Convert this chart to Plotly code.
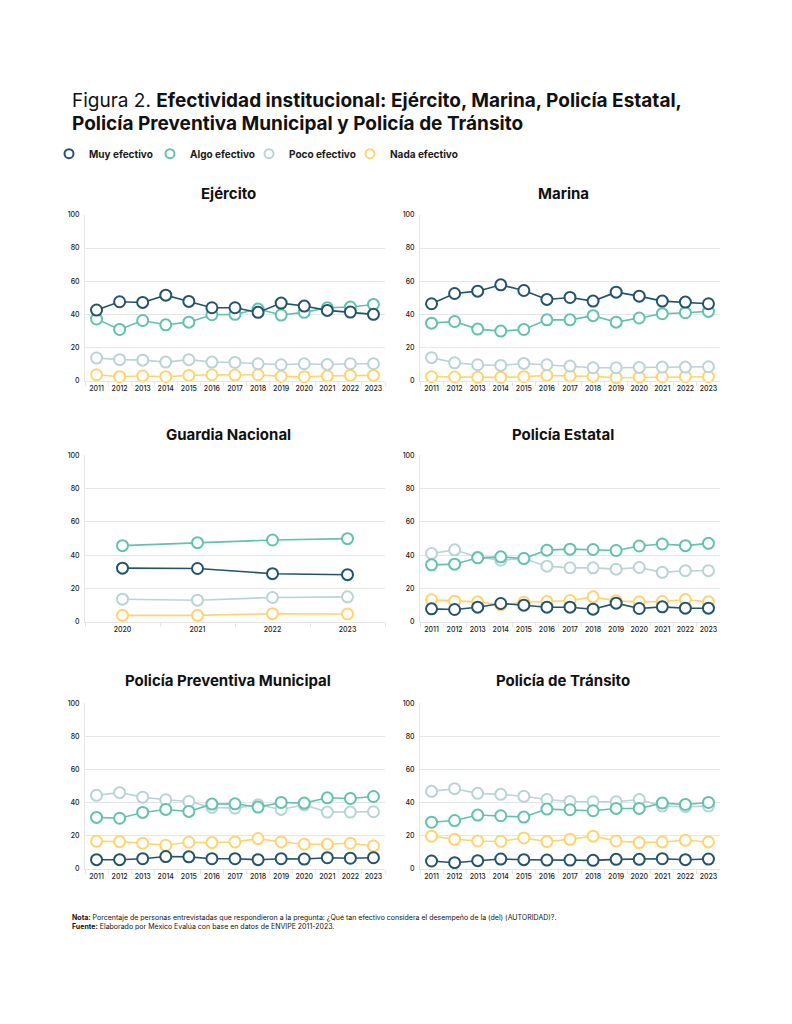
import plotly.graph_objects as go

# ---------------- data ----------------
years = ["2011", "2012", "2013", "2014", "2015", "2016", "2017", "2018", "2019", "2020", "2021", "2022", "2023"]
years_gn = ["2020", "2021", "2022", "2023"]

series_names = ["Muy efectivo", "Algo efectivo", "Poco efectivo", "Nada efectivo"]
series_colors = ["#24536a", "#62c2ad", "#b9d3d6", "#ffd46e"]

panel_titles = ["Ejército", "Marina", "Guardia Nacional", "Policía Estatal",
                "Policía Preventiva Municipal", "Policía de Tránsito"]

ejercito_muy = [42.6, 47.6, 47.2, 51.6, 47.8, 44.0, 44.0, 41.2, 46.8, 45.0, 42.4, 41.4, 40.0]
ejercito_algo = [37.2, 30.9, 36.3, 33.7, 35.3, 39.8, 40.0, 43.2, 39.6, 41.2, 44.0, 44.4, 46.0]
ejercito_poco = [13.7, 12.7, 12.4, 11.2, 12.7, 11.2, 11.0, 10.2, 9.6, 10.2, 9.8, 10.2, 10.2]
ejercito_nada = [3.6, 2.4, 2.8, 2.4, 3.2, 3.6, 3.4, 3.6, 2.6, 2.4, 2.8, 3.2, 3.2]

marina_muy = [46.4, 52.6, 54.0, 57.8, 54.4, 49.0, 50.2, 48.0, 53.4, 51.0, 48.0, 47.4, 46.4]
marina_algo = [34.7, 35.7, 31.1, 29.9, 30.9, 36.7, 36.7, 39.2, 35.3, 37.8, 40.4, 41.0, 41.8]
marina_poco = [13.9, 10.8, 9.6, 9.2, 10.4, 9.6, 8.8, 7.8, 7.8, 8.0, 8.2, 8.2, 8.4]
marina_nada = [2.4, 2.2, 2.0, 2.0, 2.4, 3.2, 2.8, 2.6, 1.8, 2.0, 2.2, 2.4, 2.4]

gn_muy = [32.3, 32.1, 29.0, 28.4]
gn_algo = [45.8, 47.6, 49.2, 50.0]
gn_poco = [13.7, 13.1, 14.7, 15.1]
gn_nada = [4.0, 4.0, 5.0, 4.8]

estatal_muy = [7.9, 7.5, 8.9, 11.1, 10.1, 8.9, 8.9, 7.7, 11.3, 8.1, 9.1, 8.3, 8.3]
estatal_algo = [34.3, 34.7, 38.5, 39.1, 38.1, 43.1, 43.7, 43.5, 42.9, 45.6, 46.8, 45.8, 47.2]
estatal_poco = [41.1, 43.3, 38.9, 37.1, 38.1, 33.5, 32.5, 32.5, 31.7, 32.7, 29.8, 30.8, 30.8]
estatal_nada = [13.3, 12.5, 12.1, 10.3, 11.9, 12.3, 12.9, 15.1, 12.7, 12.1, 12.3, 13.5, 12.1]

municipal_muy = [5.6, 5.6, 6.2, 7.5, 7.3, 6.2, 6.2, 5.6, 6.2, 6.0, 6.8, 6.5, 6.8]
municipal_algo = [31.1, 30.6, 34.1, 35.9, 34.7, 39.1, 39.3, 37.3, 40.1, 39.7, 42.9, 42.5, 43.7]
municipal_poco = [44.4, 46.0, 43.3, 41.7, 40.7, 37.1, 36.7, 38.7, 35.9, 38.7, 34.3, 34.3, 34.5]
municipal_nada = [16.7, 16.5, 15.5, 14.3, 16.1, 15.9, 16.3, 18.3, 16.3, 14.9, 14.9, 15.5, 13.9]

transito_muy = [4.8, 3.8, 5.0, 6.0, 5.6, 5.4, 5.4, 5.2, 5.8, 5.8, 6.2, 5.6, 6.0]
transito_algo = [28.2, 29.2, 32.5, 32.1, 31.3, 36.1, 35.7, 35.1, 36.5, 36.5, 39.7, 38.9, 40.1]
transito_poco = [46.8, 48.4, 45.6, 45.0, 43.8, 41.9, 40.7, 40.5, 40.5, 41.9, 37.9, 37.5, 37.9]
transito_nada = [19.8, 17.9, 16.9, 16.7, 18.7, 16.5, 17.9, 19.8, 16.9, 15.9, 16.3, 17.3, 16.3]

yticks = [0, 20, 40, 60, 80, 100]

panels = [
    (years, [ejercito_muy, ejercito_algo, ejercito_poco, ejercito_nada]),
    (years, [marina_muy, marina_algo, marina_poco, marina_nada]),
    (years_gn, [gn_muy, gn_algo, gn_poco, gn_nada]),
    (years, [estatal_muy, estatal_algo, estatal_poco, estatal_nada]),
    (years, [municipal_muy, municipal_algo, municipal_poco, municipal_nada]),
    (years, [transito_muy, transito_algo, transito_poco, transito_nada]),
]

# ---------------- layout geometry ----------------
# positions are given in page px; the html body has an 8px margin
OFF = 8
W, H = 792 - 2 * OFF, 1024 - 2 * OFF


def px_x(p):
    return (p - OFF) / W


def px_y(p):
    return 1 - (p - OFF) / H


col_px = [(85, 385), (420, 720)]
row_px = [(211.7, 379.0), (454.3, 622.5), (704.3, 871.7)]
title_cx = [228, 563]
title_cy = [190, 433, 682]
legend_px = [49, 150, 249, 350]

FONT = "Inter, Lato, sans-serif"
TXT = "#1a1a1a"
GRID = "#e6e6e6"

fig = go.Figure()
layout = {}
annotations = []

for i, (cats, vals) in enumerate(panels):
    r, c = divmod(i, 2)
    n = i + 1
    xa = "x" if n == 1 else f"x{n}"
    ya = "y" if n == 1 else f"y{n}"
    xkey = "xaxis" if n == 1 else f"xaxis{n}"
    ykey = "yaxis" if n == 1 else f"yaxis{n}"
    x0, x1 = col_px[c]
    y0, y1 = row_px[r]
    layout[xkey] = dict(
        domain=[px_x(x0), px_x(x1)], anchor=ya, type="category",
        range=[-0.5, len(cats) - 0.5], showgrid=False,
        showline=True, linecolor=GRID, linewidth=1,
        ticks="outside", tickson="boundaries", ticklen=4, tickcolor=GRID,
        tickangle=0, ticklabelstandoff=1,
        tickfont=dict(family=FONT, size=7, color=TXT, weight=500), fixedrange=True,
    )
    layout[ykey] = dict(
        domain=[px_y(y1), px_y(y0)], anchor=xa, range=[0, 100],
        tickvals=yticks, showgrid=True, gridcolor=GRID, gridwidth=1,
        showline=True, linecolor=GRID, zeroline=False, ticks="",
        tickfont=dict(family=FONT, size=7, color=TXT, weight=500), ticklabelstandoff=3,
        fixedrange=True,
    )
    # draw Nada first so Muy ends on top
    for k in [3, 2, 1, 0]:
        fig.add_trace(go.Scatter(
            x=cats, y=vals[k], xaxis=xa, yaxis=ya, mode="lines+markers",
            name=series_names[k], showlegend=False, cliponaxis=False,
            line=dict(color=series_colors[k], width=1.6),
            marker=dict(symbol="circle", size=11, color="white",
                        line=dict(color=series_colors[k], width=2)),
            hoverinfo="x+y+name",
        ))
    annotations.append(dict(
        text=f"<b>{panel_titles[i]}</b>", x=px_x(title_cx[c]), y=px_y(title_cy[r]),
        xref="paper", yref="paper", xanchor="center", yanchor="middle",
        showarrow=False, font=dict(family=FONT, size=15, color="#111111"),
    ))

# legend entries (markers only, like the reference), one small legend each
legend_keys = ["legend", "legend2", "legend3", "legend4"]
for k in range(4):
    fig.add_trace(go.Scatter(
        x=[None], y=[None], mode="markers", name=series_names[k],
        marker=dict(symbol="circle", size=9, color="white",
                    line=dict(color=series_colors[k], width=2)),
        showlegend=True, legend=legend_keys[k],
    ))
    layout[legend_keys[k]] = dict(
        orientation="h", x=px_x(legend_px[k]), y=px_y(150), xanchor="left", yanchor="middle",
        font=dict(family=FONT, size=10, color=TXT, weight="bold"),
        itemwidth=30, bgcolor="rgba(0,0,0,0)",
    )

annotations.append(dict(
    text="Figura 2. <b>Efectividad institucional: Ejército, Marina, Policía Estatal,</b>",
    x=px_x(70), y=px_y(96), xref="paper", yref="paper", xanchor="left", yanchor="middle",
    align="left", showarrow=False, font=dict(family=FONT, size=19, color="#111111"),
))
annotations.append(dict(
    text="<b>Policía Preventiva Municipal y Policía de Tránsito</b>",
    x=px_x(70), y=px_y(119), xref="paper", yref="paper", xanchor="left", yanchor="middle",
    align="left", showarrow=False, font=dict(family=FONT, size=19, color="#111111"),
))
annotations.append(dict(
    text="<b>Nota:</b> Porcentaje de personas entrevistadas que respondieron a la pregunta: "
         "¿Qué tan efectivo considera el desempeño de la (del) (AUTORIDAD)?.<br>"
         "<b>Fuente:</b> Elaborado por México Evalúa con base en datos de ENVIPE 2011-2023.",
    x=px_x(70), y=px_y(914), xref="paper", yref="paper", xanchor="left", yanchor="top",
    align="left", showarrow=False, font=dict(family=FONT, size=7, color="#111111"),
))

fig.update_layout(
    **layout,
    width=W, height=H,
    margin=dict(l=0, r=0, t=0, b=0),
    paper_bgcolor="white", plot_bgcolor="white",
    annotations=annotations,
    showlegend=True,
    font=dict(family=FONT),
)

fig.write_html("out.html")
